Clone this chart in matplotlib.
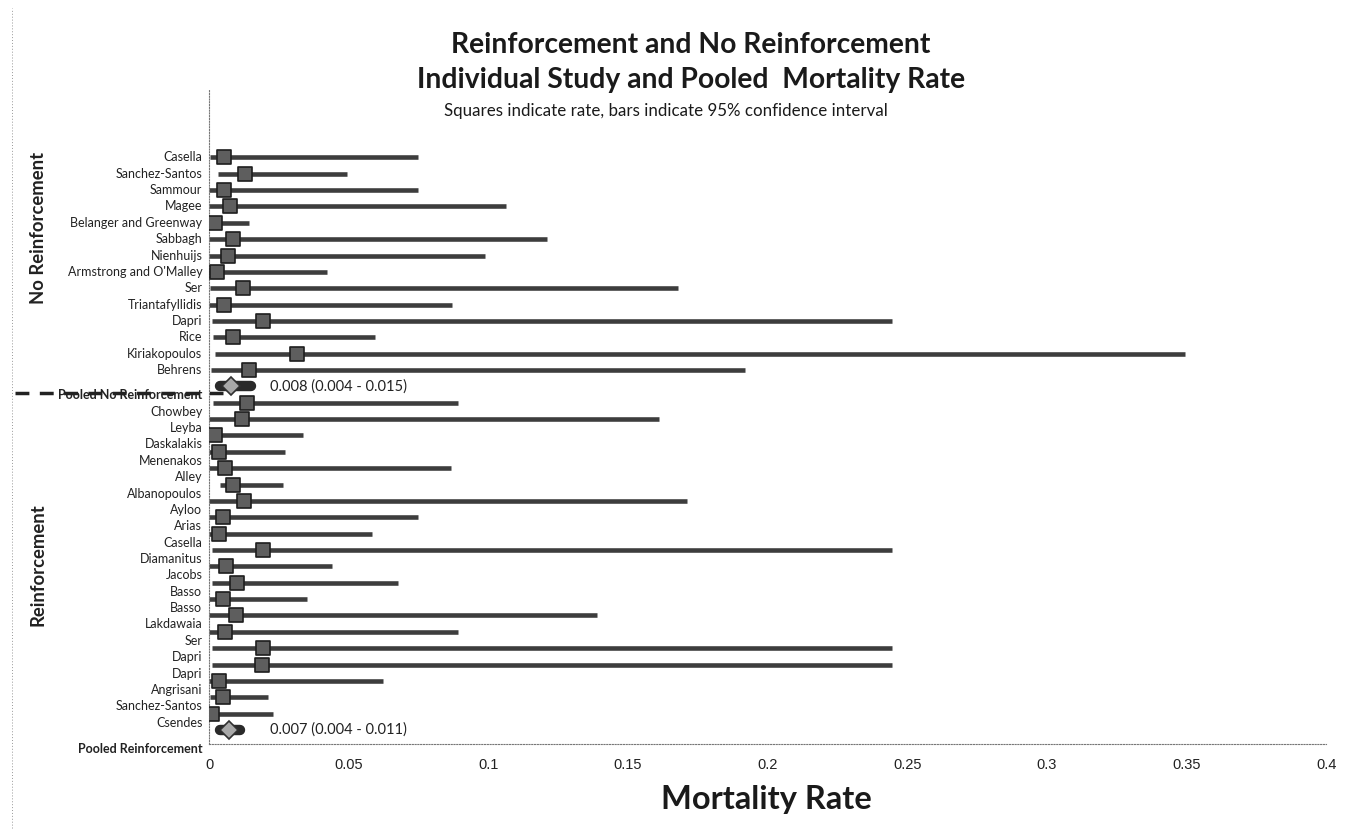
import numpy as np
import matplotlib
matplotlib.use('Agg')
import matplotlib.pyplot as plt
import matplotlib.transforms as mtransforms
from matplotlib.lines import Line2D

# Study rows, no-reinforcement group first, then reinforcement group
no_reinf_names = ['Casella', 'Sanchez-Santos', 'Sammour', 'Magee', 'Belanger and Greenway',
                  'Sabbagh', 'Nienhuijs', "Armstrong and O'Malley", 'Ser', 'Triantafyllidis',
                  'Dapri', 'Rice', 'Kiriakopoulos', 'Behrens']
no_reinf_rate = [0.0054, 0.0129, 0.0054, 0.0075, 0.0021, 0.0086, 0.0068, 0.0029, 0.0122,
                 0.0054, 0.0193, 0.0086, 0.0315, 0.0143]
no_reinf_lo = [0.0004, 0.0032, 0.0, 0.0, 0.0, 0.0, 0.0, 0.0, 0.0003, 0.0, 0.001, 0.0014,
               0.0021, 0.0007]
no_reinf_hi = [0.0748, 0.0494, 0.0748, 0.1064, 0.0143, 0.121, 0.0988, 0.0423, 0.168, 0.087,
               0.2446, 0.0594, 0.3495, 0.192]

reinf_names = ['Chowbey', 'Leyba', 'Daskalakis', 'Menenakos', 'Alley', 'Albanopoulos', 'Ayloo',
               'Arias', 'Casella', 'Diamanitus', 'Jacobs', 'Basso', 'Basso', 'Lakdawaia', 'Ser',
               'Dapri', 'Dapri', 'Angrisani', 'Sanchez-Santos', 'Csendes']
reinf_rate = [0.0136, 0.0118, 0.0021, 0.0036, 0.0057, 0.0086, 0.0125, 0.005, 0.0036, 0.0193,
              0.0061, 0.01, 0.005, 0.0097, 0.0057, 0.0193, 0.019, 0.0036, 0.005, 0.0011]
reinf_lo = [0.0014, 0.0, 0.0, 0.0, 0.0, 0.0039, 0.0, 0.0, 0.0, 0.001, 0.0, 0.001, 0.0, 0.0,
            0.0, 0.001, 0.001, 0.0, 0.0004, 0.0]
reinf_hi = [0.0892, 0.161, 0.0337, 0.0272, 0.0867, 0.0265, 0.1712, 0.0748, 0.0584, 0.2446,
            0.044, 0.0677, 0.0351, 0.139, 0.0892, 0.2446, 0.2446, 0.0623, 0.0211, 0.0229]

# pooled estimates (rate, low, high)
pooled_no_reinf = (0.008, 0.004, 0.015)
pooled_reinf = (0.007, 0.004, 0.011)

xticks = [0, 0.05, 0.1, 0.15, 0.2, 0.25, 0.3, 0.35, 0.4]

bar_col = '#3d3d3d'
sq_face = '#5e5e5e'
sq_edge = '#1e1e1e'
lab_font = ['Lato', 'DejaVu Sans']
num_font = ['Liberation Sans Narrow', 'Liberation Sans', 'DejaVu Sans']

fig = plt.figure(figsize=(13.46, 8.36), dpi=100)
ax = fig.add_axes([0.1553, 0.110, 0.8300, 0.782])

n_top = len(no_reinf_names)
n_bot = len(reinf_names)
y_top = np.arange(n_top)
y_pool1 = n_top
y_bot = np.arange(n_bot) + n_top + 1
y_pool2 = n_top + n_bot + 1


def draw_rows(ys, rate, lo, hi):
    ax.hlines(ys, lo, hi, color=bar_col, lw=3.3, zorder=2)
    ax.scatter(rate, ys, marker='s', s=88, facecolor=sq_face, edgecolor=sq_edge,
               linewidth=1.2, zorder=3)


def draw_pooled(y, vals):
    r, lo, hi = vals
    ax.plot([lo, hi], [y, y], color='#2a2a2a', lw=7.5, solid_capstyle='round', zorder=2)
    ax.plot([r], [y], marker='D', ms=9, mfc='#a8a8a8', mec='#303030', mew=1.2, zorder=3)
    ax.text(0.0218, y, '%.3f (%.3f - %.3f)' % (r, lo, hi), va='center', ha='left',
            fontsize=10.5, family=lab_font, color='#222222')


draw_rows(y_top, no_reinf_rate, no_reinf_lo, no_reinf_hi)
draw_rows(y_bot, reinf_rate, reinf_lo, reinf_hi)
draw_pooled(y_pool1, pooled_no_reinf)
draw_pooled(y_pool2, pooled_reinf)

ax.set_xlim(0, 0.4)
ax.set_ylim(y_pool2 + 0.86, -4.1)
ax.set_xticks(xticks)
ax.set_xticklabels([('%g' % t) for t in xticks], family=num_font, fontsize=10.5,
                   color='#222222')
ax.tick_params(axis='x', length=0, pad=10)
ax.set_yticks([])

for side in ['top', 'right']:
    ax.spines[side].set_visible(False)
for side in ['left', 'bottom']:
    ax.spines[side].set_linestyle((0, (1, 1.5)))
    ax.spines[side].set_color('#777777')
    ax.spines[side].set_linewidth(0.8)

# row labels sit left of the axis; the lower group is shifted half a row down
trans = mtransforms.blended_transform_factory(ax.transAxes, ax.transData)
lx = -0.006
lab_size = 9.0
for y, name in zip(y_top, no_reinf_names):
    ax.text(lx, y, name, transform=trans, ha='right', va='center', fontsize=lab_size,
            family=lab_font, color='#222222', clip_on=False)
ax.text(lx, y_pool1 + 0.55, 'Pooled No Reinforcement', transform=trans, ha='right',
        va='center', fontsize=lab_size, family=lab_font, weight='bold', color='#222222',
        clip_on=False)
for y, name in zip(y_bot, reinf_names):
    ax.text(lx, y + 0.55, name, transform=trans, ha='right', va='center', fontsize=lab_size,
            family=lab_font, color='#222222', clip_on=False)
ax.text(lx, y_pool2 + 1.17, 'Pooled Reinforcement', transform=trans, ha='right',
        va='center', fontsize=lab_size, family=lab_font, weight='bold', color='#222222',
        clip_on=False)

# group labels
fig.text(0.0285, 1 - 228 / 836, 'No Reinforcement', rotation=90, ha='center', va='center',
         fontsize=13.3, family=lab_font, weight='bold', color='#222222')
fig.text(0.0285, 1 - 565 / 836, 'Reinforcement', rotation=90, ha='center', va='center',
         fontsize=13.3, family=lab_font, weight='bold', color='#222222')

# dashed divider through the pooled label
fig.add_artist(Line2D([15 / 1346, 223 / 1346], [1 - 393 / 836, 1 - 393 / 836],
                      color='#222222', lw=2.5, linestyle=(0, (4, 3))))
# faint page edge on the left
fig.add_artist(Line2D([12 / 1346, 12 / 1346], [0.01, 0.99], color='#999999', lw=0.7,
                      linestyle=(0, (1, 2))))

fig.text(0.5134, 1 - 45 / 836, 'Reinforcement and No Reinforcement', ha='center',
         va='center', fontsize=20.3, family=lab_font, weight='bold', color='#1a1a1a')
fig.text(0.5134, 1 - 80 / 836, 'Individual Study and Pooled  Mortality Rate', ha='center',
         va='center', fontsize=20.3, family=lab_font, weight='bold', color='#1a1a1a')
fig.text(0.4948, 1 - 111 / 836, 'Squares indicate rate, bars indicate 95% confidence interval',
         ha='center', va='center', fontsize=12.2, family=lab_font, color='#1a1a1a')

fig.text(0.5692, 1 - 800 / 836, 'Mortality Rate', ha='center', va='center', fontsize=23.5,
         family=lab_font, weight='bold', color='#1a1a1a')

fig.savefig('out.png', dpi=100, facecolor='white')
